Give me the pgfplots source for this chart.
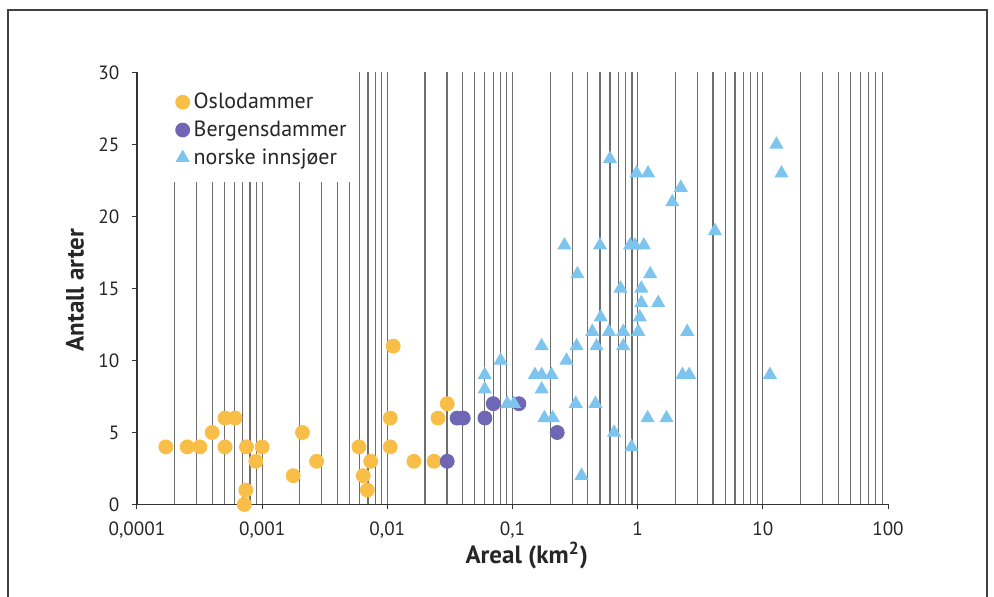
\documentclass[border=0pt]{standalone}
\usepackage{pgfplots}
\pgfplotsset{compat=1.18}
\usepackage{fontspec}
\setmainfont{PT Sans}
\definecolor{oslo}{RGB}{249,190,71}
\definecolor{bergen}{RGB}{111,102,181}
\definecolor{lake}{RGB}{125,197,238}
\definecolor{gridc}{RGB}{110,110,110}
\begin{document}
\begin{tikzpicture}
\path[use as bounding box] (-68.5pt,-46.25pt) rectangle (428.5pt,252.25pt);
\draw[line width=0.8pt, black!75] (-64.5pt,-48pt) -- (-64.5pt,247.25pt) -- (425pt,247.25pt) -- (425pt,-48pt);
\begin{axis}[
  at={(0pt,0pt)}, anchor=south west,
  scale only axis, width=375.5pt, height=216pt,
  xmode=log, xmin=1e-4, xmax=100, ymin=0, ymax=30,
  axis x line=bottom, axis y line=left,
  axis line style={-, black!80, line width=0.6pt},
  tick align=outside,
  xtick={1e-4,1e-3,1e-2,1e-1,1,10,100},
  xticklabels={{0,0001},{0,001},{0,01},{0,1},{1},{10},{100}},
  ytick={0,5,10,15,20,25,30}, yticklabels={0,5,10,15,20,25,30},
  minor tick length=0pt, major tick length=2.5pt,
  tick style={black!80, line width=0.5pt},
  tick label style={font=\fontsize{9.6}{11}\selectfont, text=black!85},
  xticklabel style={yshift=-2.5pt},
  yticklabel style={xshift=-2.8pt},
  xlabel={Areal (km\textsuperscript{2})}, ylabel={Antall arter},
  label style={font=\bfseries\fontsize{12.5}{14}\selectfont, text=black!85, inner sep=1pt},
  xlabel style={at={(axis description cs:0.519,-0.118)}, anchor=center},
  ylabel style={at={(axis description cs:-0.0826,0.4965)}, anchor=center},
  clip=false,
  legend style={draw=none, fill=none, at={(axis description cs:0.051,0.963)}, anchor=north west,
    font=\fontsize{11}{13}\selectfont, row sep=0.6pt, inner sep=0pt, text=black!85},
  legend cell align=left,
  legend image code/.code={\draw[#1] plot coordinates {(0pt,0pt)};},
]
\pgfplotsinvokeforeach{2e-4,3e-4,4e-4,5e-4,6e-4,7e-4,8e-4,9e-4,1e-3,2e-3,3e-3,4e-3,5e-3}{
  \draw[gridc, line width=0.6pt] (axis cs:#1,0) -- (axis cs:#1,22.4);
}
\pgfplotsinvokeforeach{6e-3,7e-3,8e-3,9e-3,1e-2,2e-2,3e-2,4e-2,5e-2,6e-2,7e-2,8e-2,9e-2,0.1,0.2,0.3,0.4,0.5,0.6,0.7,0.8,0.9,1,2,3,4,5,6,7,8,9,10,20,30,40,50,60,70,80,90}{
  \draw[gridc, line width=0.6pt] (axis cs:#1,0) -- (axis cs:#1,30);
}
\addplot[only marks, mark=*, mark size=3.5pt, color=oslo] coordinates {
(1.7e-4,4) (2.52e-4,4) (3.18e-4,4) (3.99e-4,5) (5.05e-4,6) (6.07e-4,6)
(5.05e-4,4) (7.5e-4,4) (1.0e-3,4) (8.9e-4,3) (7.4e-4,1) (7.2e-4,0)
(1.77e-3,2) (2.1e-3,5) (2.72e-3,3) (5.93e-3,4) (6.42e-3,2) (6.92e-3,1)
(7.36e-3,3) (0.01055,4) (0.01055,6) (0.01114,11) (0.0163,3) (0.0236,3)
(0.0254,6) (0.0301,7)
};
\addlegendentry{Oslodammer}
\addplot[only marks, mark=*, mark size=3.5pt, color=bergen] coordinates {
(0.0301,3) (0.0361,6) (0.0404,6) (0.0602,6) (0.0702,7) (0.1125,7) (0.2277,5)
};
\addlegendentry{Bergensdammer}
\addplot[only marks, mark=triangle*, mark size=3.7pt, color=lake] coordinates {
(0.06,9) (0.06,8) (0.0804,10) (0.0908,7) (0.1026,7) (0.151,9) (0.171,9)
(0.205,9) (0.171,8) (0.171,11) (0.18,6) (0.21,6) (0.27,10) (0.32,7)
(0.325,11) (0.434,12) (0.47,11) (0.46,7) (0.506,13) (0.589,12) (0.766,12)
(0.766,11) (1.01,12) (1.04,13) (1.07,14) (1.46,14) (0.649,5) (0.893,4)
(0.356,2) (1.2,6) (1.7,6) (2.49,12) (2.28,9) (2.58,9) (0.6,24) (0.98,23)
(1.21,23) (0.26,18) (0.50,18) (0.87,18) (0.95,18) (1.12,18) (0.33,16)
(1.26,16) (0.73,15) (1.07,15) (2.21,22) (1.89,21) (4.14,19) (12.85,25)
(14.1,23) (11.4,9)
};
\addlegendentry{norske innsjøer}
\end{axis}
\end{tikzpicture}
\end{document}
